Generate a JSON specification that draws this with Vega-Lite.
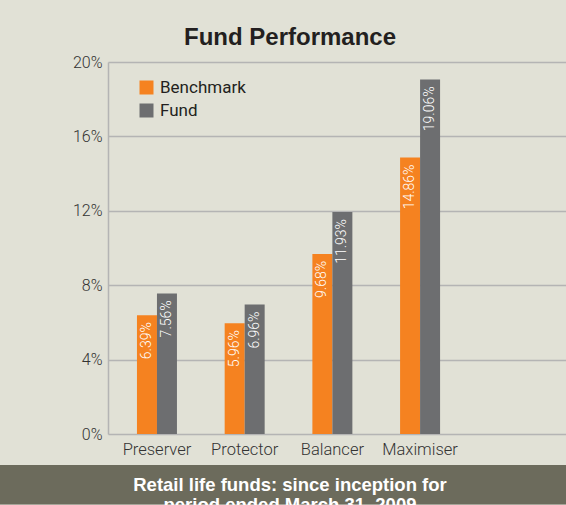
{
  "$schema": "https://vega.github.io/schema/vega-lite/v6.json",
  "background": "#e1e1d6",
  "padding": {"top": 26, "left": 0, "right": 0, "bottom": 0},
  "columns": 1,
  "spacing": 0,
  "config": {"view": {"stroke": null}},
  "concat": [
    {
      "width": 566,
      "height": 372,
      "title": {"text": "Fund Performance", "font": "Liberation Sans", "fontSize": 24, "fontWeight": "bold", "color": "#231f20", "anchor": "middle", "frame": "bounds", "offset": 4, "dx": 7},
      "data": {"values": [
        {"fund": "Preserver", "series": "Benchmark", "value": 0.0639},
        {"fund": "Preserver", "series": "Fund", "value": 0.0756},
        {"fund": "Protector", "series": "Benchmark", "value": 0.0596},
        {"fund": "Protector", "series": "Fund", "value": 0.0696},
        {"fund": "Balancer", "series": "Benchmark", "value": 0.0968},
        {"fund": "Balancer", "series": "Fund", "value": 0.1193},
        {"fund": "Maximiser", "series": "Benchmark", "value": 0.1486},
        {"fund": "Maximiser", "series": "Fund", "value": 0.1906}
      ]},
      "encoding": {
        "x": {"field": "fund", "type": "nominal", "sort": null,
          "scale": {"range": [108, 566], "paddingInner": 0.544, "paddingOuter": 0.883, "align": 0.187},
          "axis": {"title": null, "domain": false, "ticks": false, "labelAngle": 0, "labelPadding": 7, "labelFont": "Roboto", "labelFontWeight": 300, "labelFontSize": 16.5, "labelColor": "#333333", "minExtent": 31, "maxExtent": 31}},
        "xOffset": {"field": "series", "type": "nominal", "sort": ["Benchmark", "Fund"], "scale": {"paddingInner": 0, "paddingOuter": 0}},
        "y": {"field": "value", "type": "quantitative", "scale": {"domain": [0, 0.2], "nice": false},
          "axis": {"title": null, "offset": -108, "values": [0, 0.04, 0.08, 0.12, 0.16, 0.2], "format": ".0%", "ticks": false, "labelPadding": 6, "labelFont": "Roboto", "labelFontWeight": 300, "labelFontSize": 16, "labelColor": "#333333", "domainColor": "#b4b4b4", "domainWidth": 1.5, "gridColor": "#b4b4b4", "gridWidth": 1.5}}
      },
      "layer": [
        {
          "mark": {"type": "bar"},
          "encoding": {
            "color": {"field": "series", "type": "nominal",
              "scale": {"domain": ["Benchmark", "Fund"], "range": ["#f58220", "#6d6e70"]},
              "legend": {"title": null, "orient": "none", "legendX": 138, "legendY": 17, "symbolType": "square", "symbolSize": 196, "symbolStrokeWidth": 0, "symbolOpacity": 1, "labelFont": "Roboto", "labelFontSize": 17, "labelColor": "#231f20", "rowPadding": 5, "labelOffset": 5, "padding": 0}}
          }
        },
        {
          "mark": {"type": "text", "angle": 270, "align": "right", "baseline": "middle", "dx": -7, "font": "Roboto", "fontWeight": 300, "fontSize": 14, "color": "#ffffff"},
          "encoding": {"text": {"field": "value", "type": "quantitative", "format": ".2%"}}
        }
      ]
    },
    {
      "width": 566,
      "height": 39.5,
      "view": {"fill": "#6c6b5c", "stroke": null},
      "data": {"values": [{"caption": "Retail life funds: since inception for\nperiod ended March 31, 2009"}]},
      "mark": {"type": "text", "lineBreak": "\n", "font": "Liberation Sans", "fontWeight": "bold", "fontSize": 18.5, "color": "#ffffff", "baseline": "alphabetic", "dx": 7, "dy": 6, "lineHeight": 20},
      "encoding": {"text": {"field": "caption", "type": "nominal"}}
    }
  ]
}
